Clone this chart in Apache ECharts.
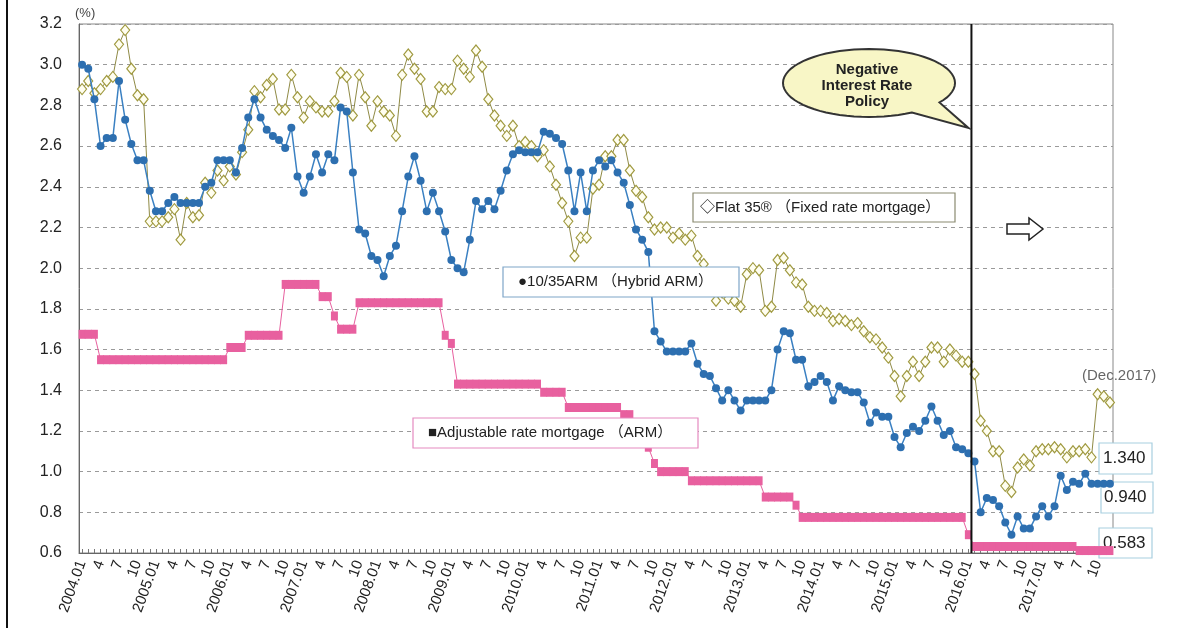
<!DOCTYPE html>
<html><head><meta charset="utf-8">
<script src="https://cdn.jsdelivr.net/npm/echarts@6/dist/echarts.min.js"></script>
<style>html,body{margin:0;padding:0;background:#fff}#c{width:1199px;height:628px}</style>
</head><body><div id="c"></div>
<script>
// ---- categories (monthly, 2004.01 - 2017.12) ----
const years = [2004,2005,2006,2007,2008,2009,2010,2011,2012,2013,2014,2015,2016,2017];
const categories = [];
years.forEach(function(y){ for (let m = 1; m <= 12; m++) categories.push(y + '.' + String(m).padStart(2,'0')); });

// ---- y axis ----
const yMin = 0.6, yMax = 3.2, yStep = 0.2;

// ---- Flat 35 (fixed rate mortgage) ----
const flat35 = [
  2.88,2.92,2.86,2.88,2.92,2.94,3.10,3.17,2.98,2.85,2.83,2.23,
  2.23,2.23,2.25,2.29,2.14,2.32,2.25,2.26,2.42,2.37,2.48,2.43,
  2.50,2.46,2.57,2.68,2.87,2.84,2.90,2.93,2.78,2.78,2.95,2.84,
  2.74,2.82,2.79,2.77,2.77,2.82,2.96,2.94,2.75,2.95,2.84,2.70,
  2.82,2.77,2.75,2.65,2.95,3.05,2.98,2.93,2.77,2.77,2.89,2.88,
  2.88,3.02,2.98,2.94,3.07,2.99,2.83,2.75,2.70,2.65,2.70,2.60,
  2.62,2.60,2.55,2.58,2.50,2.41,2.32,2.23,2.06,2.15,2.15,2.39,
  2.41,2.55,2.55,2.63,2.63,2.48,2.38,2.35,2.25,2.19,2.20,2.20,
  2.15,2.17,2.14,2.16,2.06,2.02,1.93,1.84,1.88,1.85,1.84,1.81,
  1.97,2.00,1.99,1.79,1.81,2.04,2.05,1.99,1.93,1.92,1.81,1.79,
  1.79,1.78,1.74,1.75,1.74,1.72,1.73,1.69,1.66,1.65,1.61,1.56,
  1.47,1.37,1.47,1.54,1.47,1.54,1.61,1.61,1.54,1.60,1.57,1.54,
  1.54,1.48,1.25,1.20,1.10,1.10,0.93,0.90,1.02,1.06,1.03,1.10,
  1.11,1.11,1.12,1.11,1.07,1.10,1.10,1.11,1.07,1.38,1.37,1.34
];

// ---- 10/35 ARM (hybrid ARM) ----
const hybridArm = [
  3.00,2.98,2.83,2.60,2.64,2.64,2.92,2.73,2.61,2.53,2.53,2.38,
  2.28,2.28,2.32,2.35,2.32,2.32,2.32,2.32,2.40,2.42,2.53,2.53,
  2.53,2.47,2.59,2.74,2.83,2.74,2.68,2.65,2.63,2.59,2.69,2.45,
  2.37,2.45,2.56,2.47,2.56,2.53,2.79,2.77,2.47,2.19,2.17,2.06,
  2.04,1.96,2.06,2.11,2.28,2.45,2.55,2.43,2.28,2.37,2.28,2.18,
  2.04,2.00,1.98,2.14,2.33,2.29,2.33,2.29,2.38,2.48,2.56,2.58,
  2.57,2.57,2.57,2.67,2.66,2.64,2.61,2.48,2.28,2.47,2.28,2.48,
  2.53,2.50,2.53,2.47,2.42,2.31,2.19,2.14,2.08,1.69,1.64,1.59,
  1.59,1.59,1.59,1.63,1.53,1.48,1.47,1.41,1.35,1.40,1.35,1.30,
  1.35,1.35,1.35,1.35,1.40,1.60,1.69,1.68,1.55,1.55,1.42,1.44,
  1.47,1.44,1.35,1.42,1.40,1.39,1.39,1.34,1.24,1.29,1.27,1.27,
  1.17,1.12,1.19,1.22,1.20,1.25,1.32,1.25,1.18,1.20,1.12,1.11,
  1.09,1.05,0.80,0.87,0.86,0.83,0.75,0.69,0.78,0.72,0.72,0.78,
  0.83,0.78,0.83,0.98,0.91,0.95,0.94,0.99,0.94,0.94,0.94,0.94
];

// ---- Adjustable rate mortgage (ARM) ----
const arm = [
  1.675,1.675,1.675,1.55,1.55,1.55,1.55,1.55,1.55,1.55,1.55,1.55,
  1.55,1.55,1.55,1.55,1.55,1.55,1.55,1.55,1.55,1.55,1.55,1.55,
  1.61,1.61,1.61,1.67,1.67,1.67,1.67,1.67,1.67,1.92,1.92,1.92,
  1.92,1.92,1.92,1.86,1.86,1.765,1.70,1.70,1.70,1.83,1.83,1.83,
  1.83,1.83,1.83,1.83,1.83,1.83,1.83,1.83,1.83,1.83,1.83,1.67,
  1.63,1.43,1.43,1.43,1.43,1.43,1.43,1.43,1.43,1.43,1.43,1.43,
  1.43,1.43,1.43,1.39,1.39,1.39,1.39,1.315,1.315,1.315,1.315,1.315,
  1.315,1.315,1.315,1.315,1.28,1.28,1.22,1.17,1.12,1.04,1.00,1.00,
  1.00,1.00,1.00,0.955,0.955,0.955,0.955,0.955,0.955,0.955,0.955,0.955,
  0.955,0.955,0.955,0.875,0.875,0.875,0.875,0.875,0.835,0.775,0.775,0.775,
  0.775,0.775,0.775,0.775,0.775,0.775,0.775,0.775,0.775,0.775,0.775,0.775,
  0.775,0.775,0.775,0.775,0.775,0.775,0.775,0.775,0.775,0.775,0.775,0.775,
  0.69,0.632,0.632,0.632,0.632,0.632,0.632,0.632,0.632,0.632,0.632,0.632,
  0.632,0.632,0.632,0.632,0.632,0.632,0.612,0.612,0.612,0.612,0.612,0.612
];

// ---- end-of-period value labels (Dec. 2017) ----
const endLabels = ['1.340', '0.940', '0.583'];

const FONT = '"Liberation Sans", Arial, "Noto Sans CJK JP", sans-serif';
const chart = echarts.init(document.getElementById('c'), null, {renderer: 'canvas'});

const option = {
  animation: false,
  backgroundColor: '#ffffff',
  grid: {left: 79, right: 86, top: 24, bottom: 75, show: true, borderColor: '#888', borderWidth: 1},
  xAxis: {
    type: 'category', data: categories, boundaryGap: true,
    axisLine: {lineStyle: {color: '#666'}},
    axisTick: {show: true, interval: 0, inside: true, length: 4, alignWithLabel: true, lineStyle: {color: '#777'}},
    axisLabel: {
      interval: function(i){ return i % 3 === 0; },
      rotate: 70, fontSize: 15, color: '#222', fontFamily: FONT, margin: 8,
      formatter: function(v){ const p = v.split('.'); return p[1] === '01' ? v : String(+p[1]); }
    },
    splitLine: {show: false}
  },
  yAxis: {
    type: 'value', min: yMin, max: yMax, interval: yStep,
    axisLine: {show: true, lineStyle: {color: '#666'}},
    axisTick: {show: false},
    axisLabel: {fontSize: 16, color: '#222', fontFamily: FONT, margin: 17, formatter: function(v){ return v.toFixed(1); }},
    splitLine: {lineStyle: {color: '#9a9a9a', type: [4, 4], width: 1}}
  },
  series: [
    {name: 'ARM', type: 'line', data: arm, symbol: 'rect', symbolSize: [7, 9], showAllSymbol: true,
     itemStyle: {color: '#e8609f'}, lineStyle: {color: '#e8609f', width: 1}, z: 3},
    {name: 'Flat 35', type: 'line', data: flat35, symbol: 'diamond', symbolSize: [9, 11], showAllSymbol: true,
     itemStyle: {color: '#fffef0', borderColor: '#a09a40', borderWidth: 1.2}, lineStyle: {color: '#8f8a45', width: 1}, z: 4},
    {name: '10/35ARM', type: 'line', data: hybridArm, symbol: 'circle', symbolSize: 8, showAllSymbol: true,
     itemStyle: {color: '#2d6fb0'}, lineStyle: {color: '#3a80c2', width: 1.5}, z: 5}
  ]
};
chart.setOption(option);

// ---- annotations ----
const xa = chart.convertToPixel({xAxisIndex: 0}, categories[144]);
const xb = chart.convertToPixel({xAxisIndex: 0}, categories[145]);
const yTop = chart.convertToPixel({yAxisIndex: 0}, yMax);
const yBot = chart.convertToPixel({yAxisIndex: 0}, yMin);
const vx = (xa + xb) / 2;

// callout bubble
const cx = 869, cy = 83, rx = 86, ry = 34;
const bubble = [];
for (let a = 60; a <= 395; a += 5) {
  const r = a * Math.PI / 180;
  bubble.push([cx + rx * Math.cos(r), cy + ry * Math.sin(r)]);
}
bubble.push([vx - 3, 128]);

function box(x, y, w, h, stroke, text, tx, size, z) {
  const zz = z || 100;
  return [
    {type: 'rect', z: zz, shape: {x: x, y: y, width: w, height: h}, style: {fill: '#fff', stroke: stroke, lineWidth: 1.2}},
    {type: 'text', z: zz + 1, x: tx, y: y + h / 2, style: {text: text, font: (size || 15) + 'px ' + FONT, fill: '#222', verticalAlign: 'middle'}}
  ];
}

const els = [].concat(
  [{type: 'line', z: 100, shape: {x1: 7, y1: 0, x2: 7, y2: 628}, style: {stroke: '#111', lineWidth: 2}}],
  [{type: 'line', z: 50, shape: {x1: vx, y1: yTop, x2: vx, y2: yBot}, style: {stroke: '#111', lineWidth: 2}}],
  [{type: 'text', z: 101, x: 75, y: 13, style: {text: '(%)', font: '13px ' + FONT, fill: '#444', verticalAlign: 'middle'}}],
  [{type: 'polygon', z: 100, shape: {points: bubble}, style: {fill: '#f8f6c6', stroke: '#333', lineWidth: 2}}],
  [{type: 'text', z: 101, x: 867, y: 86, style: {text: 'Negative\nInterest Rate\nPolicy', font: 'bold 15px ' + FONT, fill: '#222', align: 'center', verticalAlign: 'middle', lineHeight: 16}}],
  box(693, 193, 262, 29, '#8a8a70', '◇Flat 35® （Fixed rate mortgage）', 700),
  box(503, 267, 236, 30, '#7fa6c8', '●10/35ARM （Hybrid ARM）', 518),
  box(413, 418, 285, 30, '#e58ac0', '■Adjustable rate mortgage （ARM）', 428),
  [{type: 'polygon', z: 100, shape: {points: [[1007,224],[1029,224],[1029,218],[1043,229],[1029,240],[1029,234],[1007,234]]},
    style: {fill: '#fff', stroke: '#222', lineWidth: 1.5}}],
  [{type: 'text', z: 101, x: 1082, y: 376, style: {text: '(Dec.2017)', font: '15px ' + FONT, fill: '#666', verticalAlign: 'middle'}}],
  box(1099, 443, 53, 31, '#a8cfe0', endLabels[0], 1103, 17, 1),
  box(1101, 482, 52, 31, '#a8cfe0', endLabels[1], 1104, 17, 1),
  box(1099, 528, 53, 30, '#a8cfe0', endLabels[2], 1103, 17, 1)
);
chart.setOption({graphic: {elements: els}});
</script>
</body></html>
